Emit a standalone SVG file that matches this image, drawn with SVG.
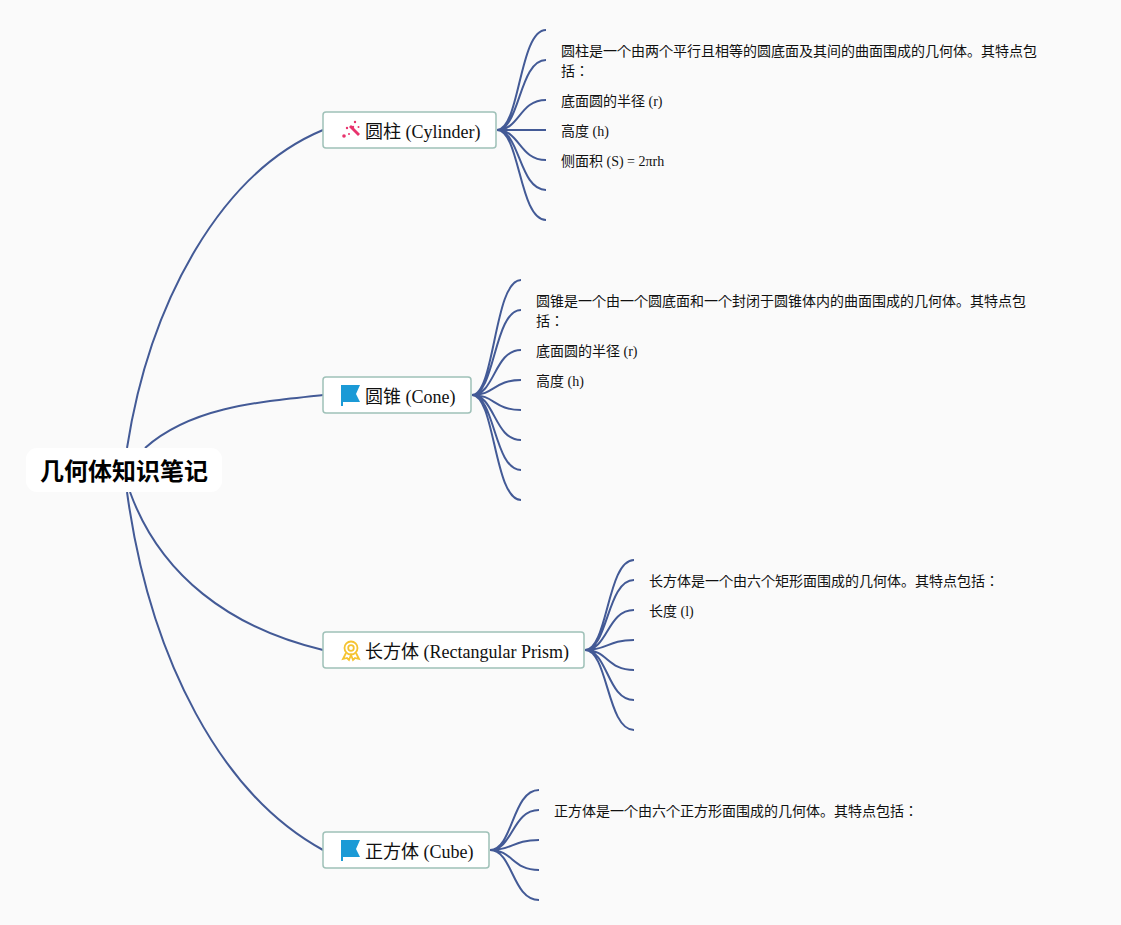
<svg xmlns="http://www.w3.org/2000/svg" width="1121" height="925" viewBox="0 0 1121 925">
<style>
text{font-family:"Liberation Serif","Noto Sans CJK JP",serif;fill:#111}
.c{fill:none;stroke:#435a96;stroke-width:2;stroke-linecap:butt}
.n{fill:#fff;stroke:#9fc1b8;stroke-width:1.5}
.t{font-size:18px}
.l{font-size:14px}
.r{font-size:24px;font-weight:700;font-family:"Noto Sans CJK JP","Liberation Sans",sans-serif;fill:#000}
</style>
<rect width="1121" height="925" fill="#fafafa"/>
<g id="connectors">
<path class="c" d="M127 448C150 300 222 172 323 130"/>
<path class="c" d="M145 448C190 408 255 402 323 395"/>
<path class="c" d="M130 492C160 575 230 628 323 650"/>
<path class="c" d="M127 492C150 660 222 795 323 850"/>
<path class="c" d="M497 130C520 130 519 30 546 30M497 130C520 130 519 60 546 60M497 130C520 130 519 100 546 100M497 130H546M497 130C520 130 519 160 546 160M497 130C520 130 519 190 546 190M497 130C520 130 519 220 546 220"/>
<path class="c" d="M472 395C495 395 494 280 521 280M472 395C495 395 494 310 521 310M472 395C495 395 494 350 521 350M472 395C495 395 494 380 521 380M472 395C495 395 494 410 521 410M472 395C495 395 494 440 521 440M472 395C495 395 494 470 521 470M472 395C495 395 494 500 521 500"/>
<path class="c" d="M585 650C608 650 607 560 634 560M585 650C608 650 607 580 634 580M585 650C608 650 607 610 634 610M585 650C608 650 607 640 634 640M585 650C608 650 607 670 634 670M585 650C608 650 607 700 634 700M585 650C608 650 607 730 634 730"/>
<path class="c" d="M490 850C513 850 512 790 539 790M490 850C513 850 512 810 539 810M490 850C513 850 512 840 539 840M490 850C513 850 512 870 539 870M490 850C513 850 512 900 539 900"/>
</g>
<g id="root">
<rect x="26" y="448" width="196" height="44" rx="11" fill="#fff"/>
<text class="r" x="124" y="480" text-anchor="middle">几何体知识笔记</text>
</g>
<g id="cylinder">
<rect class="n" x="323" y="112" width="173" height="36" rx="3"/>
<g fill="#e8336d" stroke="none">
<path d="M349 127l2-2 9 9-2 2z"/>
<circle cx="344" cy="136" r="1.8"/><circle cx="353" cy="127" r="1.2"/><circle cx="355" cy="122" r="1.2"/><circle cx="347" cy="128" r="1.200"/><circle cx="358.500" cy="127" r="1"/><circle cx="349" cy="134" r="1"/>
</g>
<text class="t" x="365" y="138">圆柱 (Cylinder)</text>
</g>
<g id="cone">
<rect class="n" x="323" y="377" width="148" height="36" rx="3"/>
<path d="M341 385H360L356 394L360 402H343V406H341Z" fill="#1b9ad6"/>
<text class="t" x="365" y="403">圆锥 (Cone)</text>
</g>
<g id="prism">
<rect class="n" x="323" y="632" width="261" height="36" rx="3"/>
<g fill="none" stroke="#f5c331" stroke-width="1.800">
<circle cx="351" cy="648" r="6.500"/><circle cx="351" cy="648" r="2.800"/>
<path d="M346 653L343 659L347 658L349 660L351 655L353 660L355 658L359 659L356 653"/>
</g>
<text class="t" x="365" y="658">长方体 (Rectangular Prism)</text>
</g>
<g id="cube">
<rect class="n" x="323" y="832" width="166" height="36" rx="3"/>
<path d="M341 840H360L356 849L360 857H343V861H341Z" fill="#1b9ad6"/>
<text class="t" x="365" y="858">正方体 (Cube)</text>
</g>
<g id="cyl-leaves">
<text class="l" x="561" y="56">圆柱是一个由两个平行且相等的圆底面及其间的曲面围成的几何体。其特点包</text>
<text class="l" x="561" y="76">括：</text>
<text class="l" x="561" y="106">底面圆的半径 (r)</text>
<text class="l" x="561" y="136">高度 (h)</text>
<text class="l" x="561" y="166">侧面积 (S) = 2πrh</text>
</g>
<g id="cone-leaves">
<text class="l" x="536" y="306">圆锥是一个由一个圆底面和一个封闭于圆锥体内的曲面围成的几何体。其特点包</text>
<text class="l" x="536" y="326">括：</text>
<text class="l" x="536" y="356">底面圆的半径 (r)</text>
<text class="l" x="536" y="386">高度 (h)</text>
</g>
<g id="prism-leaves">
<text class="l" x="649" y="586">长方体是一个由六个矩形面围成的几何体。其特点包括：</text>
<text class="l" x="649" y="616">长度 (l)</text>
</g>
<g id="cube-leaves">
<text class="l" x="554" y="816">正方体是一个由六个正方形面围成的几何体。其特点包括：</text>
</g>
</svg>
